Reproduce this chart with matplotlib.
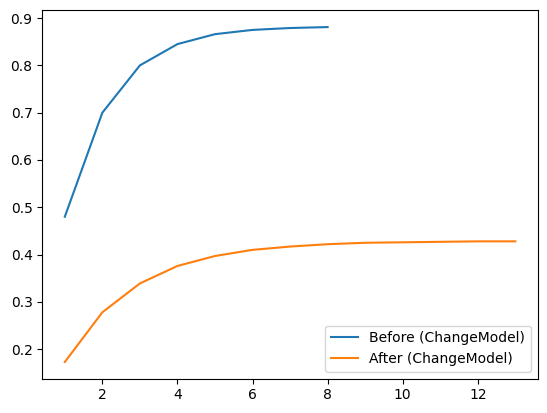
import matplotlib
matplotlib.use("Agg")
import matplotlib.pyplot as plt

# values
steps_before = [1, 2, 3, 4, 5, 6, 7, 8]
before_vals = [0.480, 0.700, 0.800, 0.845, 0.866, 0.875, 0.879, 0.881]

steps_after = [1, 2, 3, 4, 5, 6, 7, 8, 9, 10, 11, 12, 13]
after_vals = [0.173, 0.278, 0.339, 0.376, 0.397, 0.410, 0.417, 0.422,
              0.425, 0.426, 0.427, 0.428, 0.428]

fig = plt.figure(figsize=(5.47, 4.13), dpi=100)
ax = fig.add_axes([0.0773, 0.083, 0.906, 0.892])

ax.plot(steps_before, before_vals, label="Before (ChangeModel)")
ax.plot(steps_after, after_vals, label="After (ChangeModel)")
ax.legend(loc="lower right")

fig.savefig("out.png", dpi=100)
